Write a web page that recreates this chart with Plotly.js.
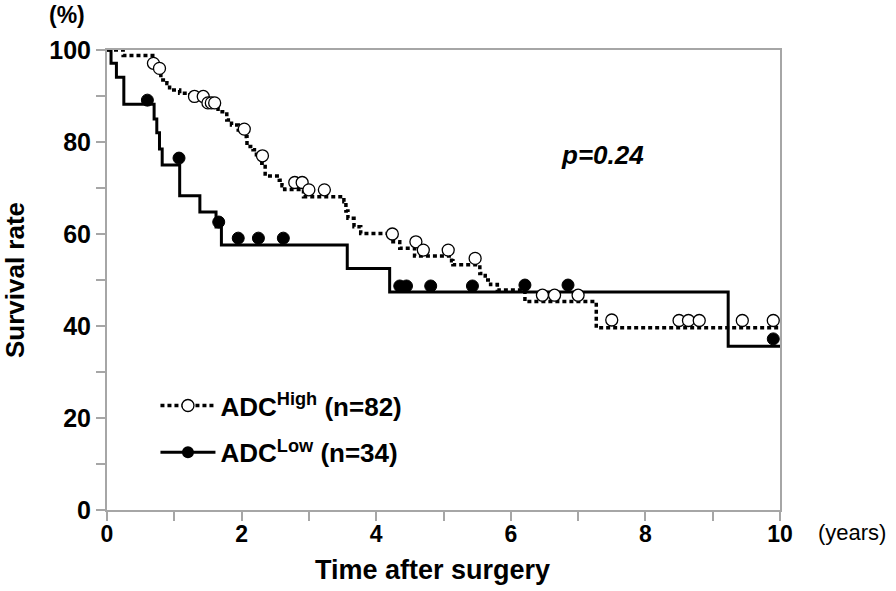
<!DOCTYPE html>
<html>
<head>
<meta charset="utf-8">
<script src="https://cdn.plot.ly/plotly-3.0.1.min.js"></script>
<style>html,body{margin:0;padding:0;background:#fff;}#chart{width:896px;height:591px;}</style>
</head>
<body>
<div id="chart"></div>
<script>
// Kaplan-Meier step data (years, survival %)
const highT = [0, 0.24, 0.68, 0.75, 0.80, 0.89, 0.93, 1.08, 1.23, 1.46, 1.65, 1.78, 1.85, 1.95, 2.02, 2.08, 2.17, 2.22, 2.30, 2.35, 2.56, 2.60, 2.64, 2.92, 3.52, 3.55, 3.58, 3.67, 3.77, 4.22, 4.35, 4.57, 5.12, 5.14, 5.54, 5.62, 5.70, 5.80, 6.21, 7.27, 10];
const highS = [100, 98.8, 97.6, 96.3, 93.5, 92.7, 91.3, 90.6, 89.3, 88.0, 86.6, 84.8, 83.7, 82.6, 81.2, 79.0, 78.3, 76.8, 75.4, 72.6, 71.7, 70.5, 69.7, 68.1, 67.0, 65.0, 63.4, 61.6, 60.1, 58.3, 56.9, 55.2, 54.2, 53.3, 51.4, 50.0, 49.0, 47.8, 45.3, 39.6, 39.6];
const lowT = [0, 0.06, 0.14, 0.25, 0.70, 0.74, 0.78, 0.82, 1.08, 1.38, 1.62, 1.70, 3.57, 4.20, 9.23, 10];
const lowS = [100, 97.1, 94.1, 88.2, 85.0, 82.0, 78.5, 75.0, 68.3, 64.8, 61.5, 57.6, 52.5, 47.4, 35.6, 35.6];
// censored observations
const highCensT = [0.69, 0.78, 1.30, 1.43, 1.50, 1.55, 1.60, 2.04, 2.31, 2.79, 2.90, 3.00, 3.23, 4.24, 4.59, 4.70, 5.07, 5.47, 6.47, 6.65, 7.00, 7.50, 8.50, 8.64, 8.80, 9.44, 9.90];
const highCensS = [97.1, 96.0, 89.9, 89.9, 88.5, 88.5, 88.5, 82.8, 77.0, 71.2, 71.2, 69.6, 69.6, 60.0, 58.3, 56.5, 56.5, 54.7, 46.7, 46.7, 46.7, 41.3, 41.2, 41.2, 41.2, 41.2, 41.2];
const lowCensT = [0.60, 1.07, 1.66, 1.95, 2.25, 2.62, 4.35, 4.45, 4.81, 5.43, 6.21, 6.85, 9.90];
const lowCensS = [89.1, 76.5, 62.6, 59.1, 59.1, 59.1, 48.7, 48.7, 48.7, 48.7, 48.9, 48.9, 37.2];
const xTicks = [0, 2, 4, 6, 8, 10];
const yTicks = [0, 20, 40, 60, 80, 100];
const legendNames = ['ADC<sup>High</sup> (n=82)', 'ADC<sup>Low</sup> (n=34)'];

const FONT = 'Liberation Sans, Arial, sans-serif';
const dotDash = '4px,3px';

const traces = [
  {x: highT, y: highS, type: 'scatter', mode: 'lines', line: {shape: 'hv', color: '#000', width: 3.5, dash: dotDash}, showlegend: false, cliponaxis: false, hoverinfo: 'skip'},
  {x: lowT, y: lowS, type: 'scatter', mode: 'lines', line: {shape: 'hv', color: '#000', width: 3}, showlegend: false, cliponaxis: false, hoverinfo: 'skip'},
  {x: highCensT, y: highCensS, type: 'scatter', mode: 'markers', marker: {symbol: 'circle', size: 12, color: '#fff', line: {color: '#000', width: 1.3}}, showlegend: false, cliponaxis: false},
  {x: lowCensT, y: lowCensS, type: 'scatter', mode: 'markers', marker: {symbol: 'circle', size: 12, color: '#000', line: {color: '#000', width: 1}}, showlegend: false, cliponaxis: false},
  {x: [null], y: [null], type: 'scatter', mode: 'lines+markers', name: legendNames[0], legendgroup: 'a', line: {color: '#000', width: 3.5, dash: dotDash}, marker: {symbol: 'circle', size: 12, color: '#fff', line: {color: '#000', width: 1.3}}},
  {x: [null], y: [null], type: 'scatter', mode: 'lines+markers', name: legendNames[1], legendgroup: 'b', line: {color: '#000', width: 3}, marker: {symbol: 'circle', size: 12, color: '#000'}}
];

const axisCommon = {
  showline: true, linecolor: '#a6a6a6', linewidth: 2, mirror: true,
  ticks: 'outside', ticklen: 9, tickwidth: 2, tickcolor: '#a6a6a6',
  showgrid: false, zeroline: false
};

const layout = {
  width: 896, height: 591,
  margin: {l: 107, r: 116, t: 50, b: 81},
  paper_bgcolor: '#fff', plot_bgcolor: '#fff',
  font: {family: FONT, color: '#000'},
  xaxis: Object.assign({}, axisCommon, {
    range: [0, 10], tickvals: xTicks, ticktext: xTicks.map(String),
    ticklabelstandoff: -7,
    tickfont: {family: FONT, size: 23, color: '#000', weight: 'bold'},
    minor: {dtick: 1, ticks: 'outside', ticklen: 9, tickwidth: 2, tickcolor: '#a6a6a6'}
  }),
  yaxis: Object.assign({}, axisCommon, {
    range: [0, 100], tickvals: yTicks, ticktext: yTicks.map(String),
    tickfont: {family: FONT, size: 25, color: '#000', weight: 'bold'},
    minor: {dtick: 10, ticks: 'outside', ticklen: 9, tickwidth: 2, tickcolor: '#a6a6a6'},
    title: {text: 'Survival rate', font: {family: FONT, size: 26, weight: 'bold', color: '#000'}, standoff: 22}
  }),
  showlegend: true,
  legend: {
    x: 0.072, y: 0.278, xanchor: 'left', yanchor: 'top',
    bgcolor: 'rgba(0,0,0,0)', borderwidth: 0,
    font: {family: FONT, size: 26, weight: 'bold', color: '#000'},
    itemwidth: 55, traceorder: 'grouped', tracegroupgap: 10
  },
  annotations: [
    {xref: 'paper', yref: 'paper', x: 0.483, y: -0.13, text: '<b>Time after surgery</b>', showarrow: false, font: {family: FONT, size: 27}, xanchor: 'center', yanchor: 'middle'},
    {xref: 'paper', yref: 'paper', x: -0.059, y: 1.076, text: '<b>(%)</b>', showarrow: false, font: {family: FONT, size: 23}, xanchor: 'center', yanchor: 'middle'},
    {xref: 'paper', yref: 'paper', x: 1.107, y: -0.048, text: '(years)', showarrow: false, font: {family: FONT, size: 22}, xanchor: 'center', yanchor: 'middle'},
    {xref: 'x', yref: 'y', x: 7.36, y: 77.2, text: '<b><i>p=0.24</i></b>', showarrow: false, font: {family: FONT, size: 26}, xanchor: 'center', yanchor: 'middle'}
  ]
};

Plotly.newPlot('chart', traces, layout, {displayModeBar: false, staticPlot: true});
</script>
</body>
</html>
